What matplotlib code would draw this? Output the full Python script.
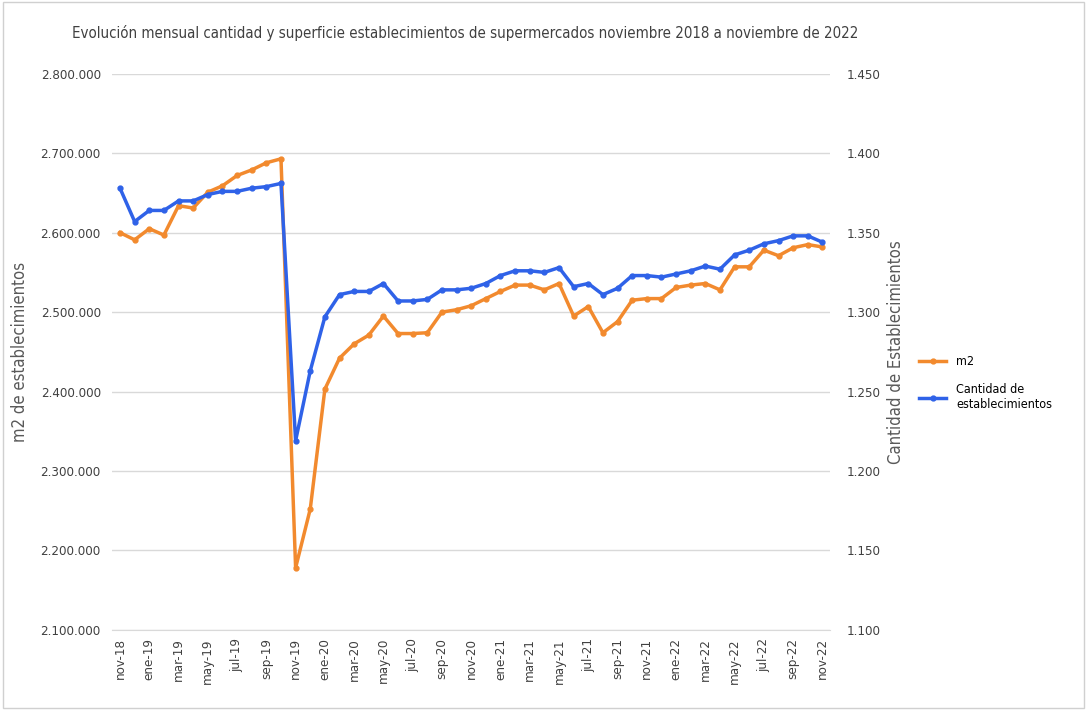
import numpy as np
import matplotlib.pyplot as plt
from matplotlib.ticker import FuncFormatter

plt.rcParams['font.family'] = ['DejaVu Sans']
plt.rcParams['font.stretch'] = 'condensed'

# monthly data nov-18 .. nov-22
meses = ['ene', 'feb', 'mar', 'abr', 'may', 'jun', 'jul', 'ago', 'sep', 'oct', 'nov', 'dic']
labels = []
for k in range(49):
    m = (10 + k) % 12
    y = 18 + (10 + k) // 12
    labels.append(f'{meses[m]}-{y}')

m2 = [2600000, 2591000, 2605000, 2597000, 2634000, 2631000, 2651000, 2659000,
      2672000, 2679000, 2688000, 2693000, 2178000, 2252000, 2403000, 2442000,
      2460000, 2471000, 2495000, 2473000, 2473000, 2474000, 2500000, 2503000,
      2508000, 2517000, 2526000, 2534000, 2534000, 2528000, 2536000, 2495000,
      2507000, 2474000, 2488000, 2515000, 2517000, 2517000, 2531000, 2534000,
      2536000, 2528000, 2557000, 2557000, 2578000, 2571000, 2581000, 2585000,
      2582000]

cantidad = [1378, 1357, 1364, 1364, 1370, 1370, 1374, 1376, 1376, 1378, 1379,
            1381, 1219, 1263, 1297, 1311, 1313, 1313, 1318, 1307, 1307, 1308,
            1314, 1314, 1315, 1318, 1323, 1326, 1326, 1325, 1328, 1316, 1318,
            1311, 1315, 1323, 1323, 1322, 1324, 1326, 1329, 1327, 1336, 1339,
            1343, 1345, 1348, 1348, 1344]

orange = '#F28A2E'
blue = '#2F62E8'
x = np.arange(len(labels))

fig = plt.figure(figsize=(10.87, 7.10), dpi=100)
ax = fig.add_axes([0.103, 0.113, 0.661, 0.783])
ax2 = ax.twinx()

l1, = ax.plot(x, m2, color=orange, lw=2.5, marker='o', ms=3.5, label='m2')
l2, = ax2.plot(x, cantidad, color=blue, lw=2.5, marker='o', ms=3.5,
               label='Cantidad de\nestablecimientos')

ax.set_ylim(2100000, 2800000)
ax.set_yticks(np.arange(2100000, 2800001, 100000))
ax2.set_ylim(1100, 1450)
ax2.set_yticks(np.arange(1100, 1451, 50))
ax.set_xlim(-0.55, 48.55)
ax.set_xticks(x[::2])
ax.set_xticklabels(labels[::2], rotation=90, fontsize=9.5, color='#404040')

fmt = lambda v, p: f'{int(v):,}'.replace(',', '.')
ax.yaxis.set_major_formatter(FuncFormatter(fmt))
ax2.yaxis.set_major_formatter(FuncFormatter(fmt))

ax.grid(axis='y', color='#d9d9d9', lw=1)
ax.set_axisbelow(True)
for a in (ax, ax2):
    for s in a.spines.values():
        s.set_visible(False)
    a.tick_params(length=0, labelsize=9.5, labelcolor='#404040')
ax.tick_params(axis='y', pad=8)
ax2.tick_params(axis='y', pad=12)
ax.tick_params(axis='x', pad=6)
ax.spines['bottom'].set_visible(True)
ax.spines['bottom'].set_color('#d9d9d9')

ax.set_ylabel('m2 de establecimientos', fontsize=12, color='#595959', labelpad=8)
ax2.set_ylabel('Cantidad de Establecimientos', fontsize=12, color='#595959', labelpad=4)

fig.suptitle('Evolución mensual cantidad y superficie establecimientos de supermercados '
             'noviembre 2018 a noviembre de 2022', x=0.428, y=0.965, fontsize=10.8,
             color='#404040')

fig.legend(handles=[l1, l2], loc='center left', bbox_to_anchor=(0.835, 0.46),
           frameon=False, fontsize=9, labelspacing=1.2, handlelength=2.2)

fig.patches.append(plt.Rectangle((0.003, 0.003), 0.994, 0.994, transform=fig.transFigure,
                                 fill=False, edgecolor='#d0d0d0', lw=1))

plt.savefig('out.png', dpi=100)
